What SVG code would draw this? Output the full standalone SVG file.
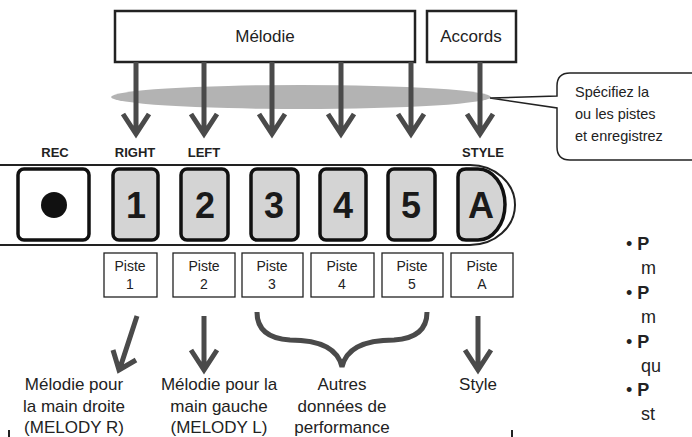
<svg xmlns="http://www.w3.org/2000/svg" width="692" height="437" viewBox="0 0 692 437">
<defs>
<style>
text{font-family:"Liberation Sans",Arial,sans-serif;fill:#222}
.box{fill:#fff;stroke:#222;stroke-width:2.5}
.btn{fill:#d4d4d4;stroke:#111;stroke-width:3.5}
.arr{fill:none;stroke:#4a4a4a;stroke-width:5}
.pis{fill:#fff;stroke:#222;stroke-width:1.3}
.lbl{font-size:13px;font-weight:bold;text-anchor:middle}
.dig{font-size:36px;font-weight:bold;text-anchor:middle;fill:#1a1a1a}
.pt{font-size:14px;text-anchor:middle}
.bt{font-size:17px;text-anchor:middle}
.bul{font-size:18px}
</style>
</defs>
<ellipse cx="301" cy="97" rx="190" ry="12" fill="#b3b3b3"/>
<g id="melodie"><rect class="box" x="115" y="11" width="300" height="51"/><text class="bt" x="265" y="42">Mélodie</text></g>
<g id="accords"><rect class="box" x="427" y="11" width="89" height="51"/><text class="bt" x="471" y="42">Accords</text></g>
<g id="connectors">
<path class="arr" d="M136,62V133M123,114L136,134L149,114"/>
<path class="arr" d="M204,62V133M191,114L204,134L217,114"/>
<path class="arr" d="M272,62V133M259,114L272,134L285,114"/>
<path class="arr" d="M341,62V133M328,114L341,134L354,114"/>
<path class="arr" d="M411,62V133M398,114L411,134L424,114"/>
<path class="arr" d="M480,62V133M467,114L480,134L493,114"/>
<path class="arr" d="M137,316L120,368M113,350L119,370L136,360"/>
<path class="arr" d="M204,316V368M191,350L204,370L217,350"/>
<path class="arr" d="M478,316V368M465,350L478,370L491,350"/>
<path class="arr" d="M257,312Q257,338 290,340Q336,340 342,367Q348,340 394,340Q427,338 427,312"/>
</g>
<g id="callout"><path d="M570,73H700V160H570Q557,160 557,147V108L490,98L557,96V86Q557,73 570,73Z" fill="#fff" stroke="#222" stroke-width="1.5"/>
<text font-size="14.5"><tspan x="575" y="97">Spécifiez la</tspan><tspan x="575" y="119">ou les pistes</tspan><tspan x="575" y="141">et enregistrez</tspan></text></g>
<g id="panel">
<path d="M0,165H470A45,40 0 0 1 470,245H0" fill="none" stroke="#222" stroke-width="2"/>
<text class="lbl" x="55" y="157">REC</text><text class="lbl" x="135" y="157">RIGHT</text><text class="lbl" x="204" y="157">LEFT</text><text class="lbl" x="483" y="157">STYLE</text>
<rect x="18" y="169" width="71" height="71" rx="6" fill="#fff" stroke="#111" stroke-width="3.5"/><circle cx="54" cy="205" r="13" fill="#111"/>
<g id="b1"><rect class="btn" x="113" y="169" width="45" height="71" rx="6"/><text class="dig" x="136" y="218">1</text></g>
<g id="b2"><rect class="btn" x="181" y="169" width="47" height="71" rx="6"/><text class="dig" x="205" y="218">2</text></g>
<g id="b3"><rect class="btn" x="251" y="169" width="47" height="71" rx="6"/><text class="dig" x="274" y="218">3</text></g>
<g id="b4"><rect class="btn" x="320" y="169" width="46" height="71" rx="6"/><text class="dig" x="343" y="218">4</text></g>
<g id="b5"><rect class="btn" x="388" y="169" width="47" height="71" rx="6"/><text class="dig" x="411" y="218">5</text></g>
<g id="bA"><path class="btn" d="M466,169H478A27,35.5 0 0 1 478,240H466Q458,240 458,232V177Q458,169 466,169Z"/><text class="dig" x="481" y="218">A</text></g>
</g>
<g id="pistes">
<rect class="pis" x="104" y="253" width="53" height="44"/><text class="pt" x="130" y="271">Piste</text><text class="pt" x="130" y="289">1</text>
<rect class="pis" x="173" y="253" width="62" height="44"/><text class="pt" x="204" y="271">Piste</text><text class="pt" x="204" y="289">2</text>
<rect class="pis" x="242" y="253" width="61" height="44"/><text class="pt" x="272" y="271">Piste</text><text class="pt" x="272" y="289">3</text>
<rect class="pis" x="311" y="253" width="63" height="44"/><text class="pt" x="342" y="271">Piste</text><text class="pt" x="342" y="289">4</text>
<rect class="pis" x="382" y="253" width="61" height="44"/><text class="pt" x="412" y="271">Piste</text><text class="pt" x="412" y="289">5</text>
<rect class="pis" x="451" y="253" width="62" height="44"/><text class="pt" x="482" y="271">Piste</text><text class="pt" x="482" y="289">A</text>
</g>
<g id="labels">
<text class="bt"><tspan x="74" y="390">Mélodie pour</tspan><tspan x="74" y="412">la main droite</tspan><tspan x="74" y="433">(MELODY R)</tspan></text>
<text class="bt"><tspan x="219" y="390">Mélodie pour la</tspan><tspan x="219" y="412">main gauche</tspan><tspan x="219" y="433">(MELODY L)</tspan></text>
<text class="bt"><tspan x="342" y="390">Autres</tspan><tspan x="342" y="412">données de</tspan><tspan x="342" y="433">performance</tspan></text>
<text class="bt" x="478" y="390">Style</text>
</g>
<path d="M9,430V437M512,430V437" stroke="#222" stroke-width="2"/>
<g id="bullets">
<text class="bul" x="626" y="250">• <tspan font-weight="bold">P</tspan></text><text class="bul" x="641" y="274">m</text>
<text class="bul" x="626" y="299">• <tspan font-weight="bold">P</tspan></text><text class="bul" x="641" y="323">m</text>
<text class="bul" x="626" y="348">• <tspan font-weight="bold">P</tspan></text><text class="bul" x="641" y="372">qu</text>
<text class="bul" x="626" y="396">• <tspan font-weight="bold">P</tspan></text><text class="bul" x="641" y="420">st</text>
</g>
</svg>
